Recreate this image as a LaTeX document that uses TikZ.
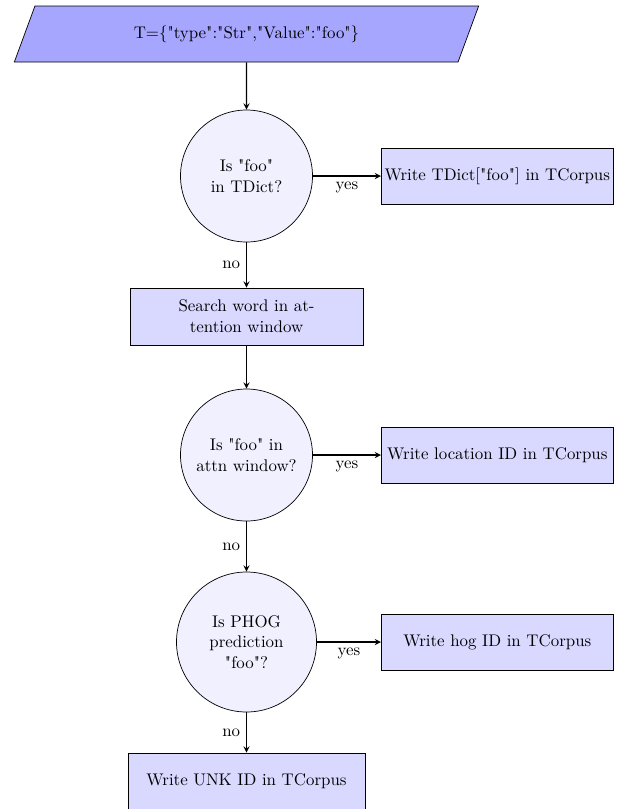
\documentclass[tikz,border=0pt]{standalone}
\usepackage{fontspec}
\setmainfont{lmroman10-regular.otf}[Ligatures={Common,TeXOff},BoldFont=lmroman10-bold.otf,ItalicFont=lmroman10-italic.otf]
\usepackage{tikz}
\usetikzlibrary{arrows,shapes}

\tikzset{
	inbox/.style={draw,trapezium,trapezium left angle=68,trapezium right angle=112,
		fill=blue!35,minimum width=9.3cm,minimum height=1.12cm,trapezium stretches=true},
	decide/.style={draw,circle,fill=blue!6,align=center,minimum size=2.64cm,inner sep=1pt},
	work/.style={draw,rectangle,fill=blue!15,align=center,minimum width=4.64cm,minimum height=1.12cm,inner xsep=1.5pt}
}

\begin{document}
\begin{tikzpicture}[font=\fontsize{9.6pt}{11.8pt}\selectfont]
		\useasboundingbox (0,0) rectangle (12.42,-16.18);
		\node[inbox] (T) at (4.93,-0.68) {T=\{"type":"Str","Value":"foo"\}};
		\node[decide] (Q1) at (4.93,-3.52) {Is "foo"\\in TDict?};
		\node[work,anchor=west] (W1) at (7.62,-3.52) {Write TDict["foo"] in TCorpus};
		\node[work,minimum width=4.66cm,minimum height=1.14cm] (S) at (4.93,-6.33) {Search word in at-\\tention window};
		\node[decide] (Q2) at (4.93,-9.1) {Is "foo" in\\attn window?};
		\node[work,anchor=west] (W2) at (7.62,-9.1) {Write location ID in TCorpus};
		\node[decide,minimum size=2.8cm] (Q3) at (4.93,-12.84) {Is PHOG\\prediction\\"foo"?};
		\node[work,anchor=west] (W3) at (7.62,-12.84) {Write hog ID in TCorpus};
		\node[work,minimum width=4.74cm] (U) at (4.93,-15.62) {Write UNK ID in TCorpus};
				%
		\path[->,>=stealth,line width=0.6pt]
			(T) edge (Q1)
			(Q1) edge node[below]{yes} (W1)
			(Q1) edge node[left]{no} (S)
			(S) edge (Q2)
			(Q2) edge node[below]{yes} (W2)
			(Q2) edge node[left]{no} (Q3)
			(Q3) edge node[below]{yes} (W3)
			(Q3) edge node[left]{no} (U);
	\end{tikzpicture}
\end{document}
